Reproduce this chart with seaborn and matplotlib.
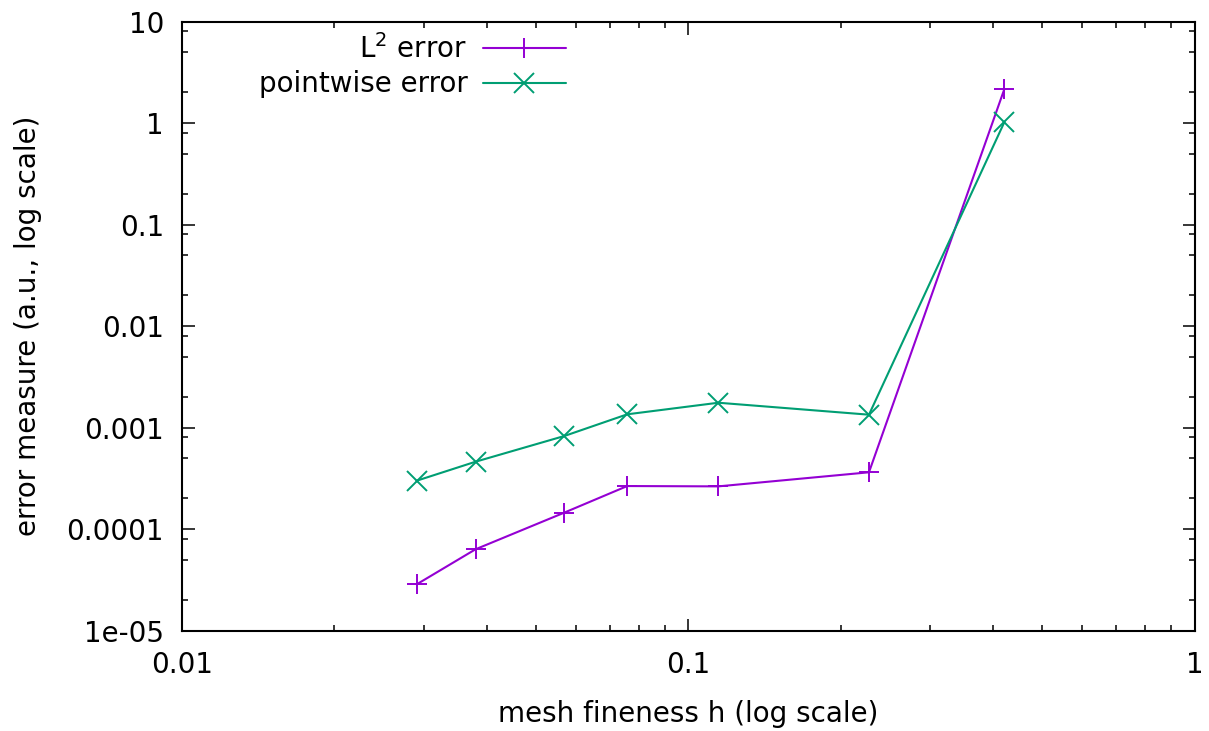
import numpy as np
import pandas as pd
import matplotlib
matplotlib.use("Agg")
import matplotlib.pyplot as plt
from matplotlib.ticker import LogLocator, NullFormatter, FixedLocator, FixedFormatter
import seaborn as sns

# ---- data ----
h_values = [0.02908, 0.03800, 0.05689, 0.07577, 0.11466, 0.2275, 0.4210]
l2_error = [2.85e-5, 6.31e-5, 1.449e-4, 2.65e-4, 2.63e-4, 3.62e-4, 2.15]
pointwise_error = [2.99e-4, 4.60e-4, 8.24e-4, 1.349e-3, 1.754e-3, 1.337e-3, 1.016]
series_labels = ["L$^{2}$ error", "pointwise error"]
x_ticks = [0.01, 0.1, 1]
x_ticklabels = ["0.01", "0.1", "1"]
y_ticks = [1e-5, 1e-4, 1e-3, 1e-2, 1e-1, 1, 10]
y_ticklabels = ["1e-05", "0.0001", "0.001", "0.01", "0.1", "1", "10"]

sns.set_style("white")
plt.rcParams["font.family"] = ["DejaVu Sans"]
plt.rcParams["mathtext.fontset"] = "dejavusans"
plt.rcParams["mathtext.default"] = "regular"
plt.rcParams["text.color"] = "black"
plt.rcParams["axes.labelcolor"] = "black"

FS = 20
fig = plt.figure(figsize=(12.09, 7.31), dpi=100)
ax = fig.add_axes([182 / 1209, 1 - 630.5 / 731, (1194.5 - 182) / 1209, (630.5 - 21.5) / 731])

purple = "#9400D3"
green = "#009E73"

sns.lineplot(x=h_values, y=l2_error, ax=ax, color=purple, marker="+", markersize=15,
             markeredgewidth=1.4, markeredgecolor=purple, linewidth=1.5,
             label=series_labels[0], sort=False)
sns.lineplot(x=h_values, y=pointwise_error, ax=ax, color=green, marker="x", markersize=14,
             markeredgewidth=1.4, markeredgecolor=green, linewidth=1.5,
             label=series_labels[1], sort=False)

ax.set_xscale("log")
ax.set_yscale("log")
ax.set_xlim(0.01, 1)
ax.set_ylim(1e-5, 10)

ax.xaxis.set_major_locator(FixedLocator(x_ticks))
ax.xaxis.set_major_formatter(FixedFormatter(x_ticklabels))
ax.xaxis.set_minor_locator(LogLocator(base=10, subs=np.arange(2, 10)))
ax.xaxis.set_minor_formatter(NullFormatter())
ax.yaxis.set_major_locator(FixedLocator(y_ticks))
ax.yaxis.set_major_formatter(FixedFormatter(y_ticklabels))
ax.yaxis.set_minor_locator(LogLocator(base=10, subs=(2, 5, 8)))
ax.yaxis.set_minor_formatter(NullFormatter())

ax.tick_params(which="both", direction="in", top=True, right=True, bottom=True, left=True,
               colors="black", labelsize=FS)
ax.tick_params(which="major", length=9, width=1.1)
ax.tick_params(which="minor", length=4.5, width=1.1)
ax.tick_params(axis="x", which="major", pad=15)
ax.tick_params(axis="y", which="major", pad=13)

for s in ax.spines.values():
    s.set_visible(True)
    s.set_color("black")
    s.set_linewidth(1.5)

ax.set_xlabel("mesh fineness h (log scale)", fontsize=FS, labelpad=15)
ax.set_ylabel("error measure (a.u., log scale)", fontsize=FS)
ax.yaxis.set_label_coords(-0.138, 0.5)

handles, labels = ax.get_legend_handles_labels()
leg = ax.get_legend()
if leg is not None:
    leg.remove()
ax.legend(handles, labels, loc="upper right", bbox_to_anchor=(566 / 1209, 1 - 34 / 731),
          bbox_transform=fig.transFigure, frameon=False, markerfirst=False,
          fontsize=FS, handlelength=3.0, handletextpad=0.55, labelspacing=0.23,
          borderpad=0, borderaxespad=0, numpoints=1)

fig.savefig("out.png", dpi=100, facecolor="white")
